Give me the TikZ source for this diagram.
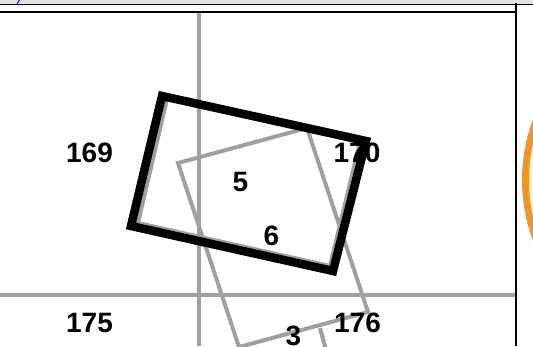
\documentclass[tikz,border=0pt]{standalone}
\usepackage{fontspec}
\setmainfont{Liberation Sans}
\usetikzlibrary{positioning}
\definecolor{gridgray}{HTML}{A0A0A0}
\definecolor{ringorange}{HTML}{F7941D}
\definecolor{bandgray}{HTML}{E4E4E4}

\begin{document}
\begin{tikzpicture}[x=1pt, y=-1pt, every node/.style={font=\fontsize{28}{28}\selectfont\bfseries, inner sep=0pt}, gridline/.style={draw=gridgray, line width=4.5pt}, tileline/.style={draw=gridgray, line width=4pt, line join=miter}, boxframe/.style={draw=black, line width=8.5pt, line join=miter}, edgeline/.style={draw=black, line width=2pt}]
\useasboundingbox (0,0) rectangle (533,346);
\clip (0,0) rectangle (533,346);
% top band and sheet border
\fill[bandgray] (0,0) rectangle (533,4);
\draw[black, line width=1.5pt] (0,4.5) -- (533,4.5);
\draw[edgeline] (0,11.5) -- (516,11.5);
\draw[edgeline] (516,3) -- (516,346);
\draw[blue, line width=1pt] (17,4) -- (19.5,0);
% sheet grid
\draw[gridline] (199,12.5) -- (199,346);
\draw[gridline] (0,295) -- (515,295);
% gray tiles
\draw[tileline] (167,99) -- (360,142) -- (330,266) -- (138,223) -- cycle;
\draw[tileline] (178,163) -- (307,128) -- (368,312) -- (239,347) -- cycle;
\draw[tileline] (320,328) -- (326,350);
% orange ring
\draw[ringorange, line width=7pt] (695.5,180) circle (170);
% black frame
\draw[boxframe] (162,96) -- (366,141) -- (333,271) -- (131,226) -- cycle;
% sheet numbers
\node (s169) at (89.5,152.5) {169};
\node (s170) at (357,152.5) {170};
\node (s175) at (89.5,323) {175};
\node (s176) at (357.5,322.5) {176};
\node (p5) at (240.5,182) {5};
\node (p6) at (271.5,236) {6};
\node (p3) at (293.5,335.5) {3};
\end{tikzpicture}
\end{document}
